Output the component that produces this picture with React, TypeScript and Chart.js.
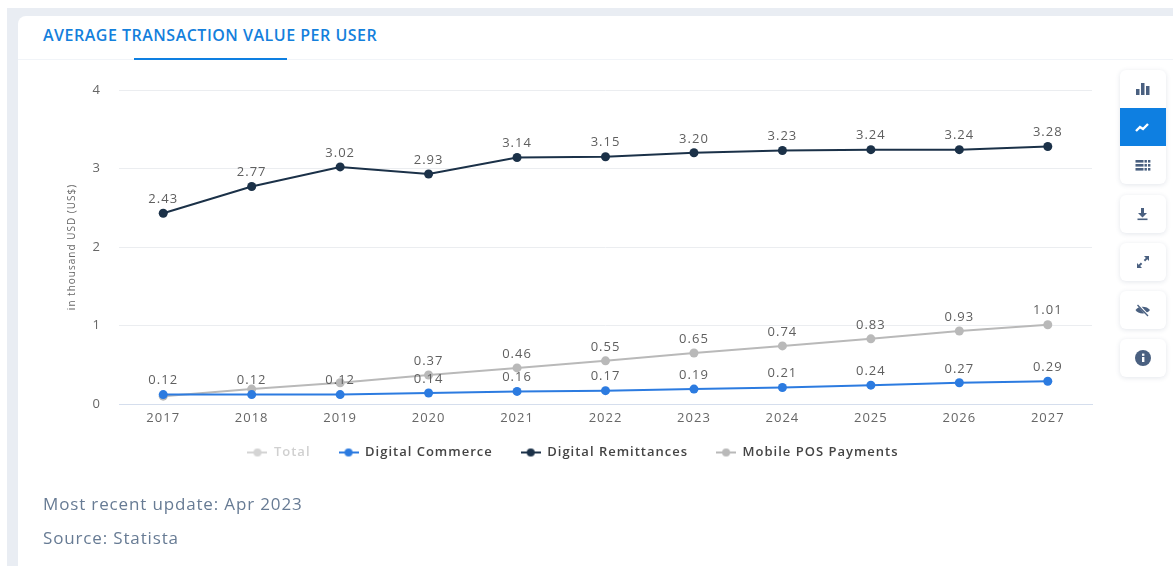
import React, { useEffect, useRef } from "react";
import { Chart, registerables } from "chart.js";

Chart.register(...registerables);

const TITLE = "AVERAGE TRANSACTION VALUE PER USER";
const UPDATE_TEXT = "Most recent update: Apr 2023";
const SOURCE_TEXT = "Source: Statista";
const Y_TITLE = "in thousand USD (US$)";
const years = ["2017", "2018", "2019", "2020", "2021", "2022", "2023", "2024", "2025", "2026", "2027"];
const digitalCommerce = [0.12, 0.12, 0.12, 0.14, 0.16, 0.17, 0.19, 0.21, 0.24, 0.27, 0.29];
const digitalRemittances = [2.43, 2.77, 3.02, 2.93, 3.14, 3.15, 3.2, 3.23, 3.24, 3.24, 3.28];
const mobilePos = [0.1, 0.19, 0.27, 0.37, 0.46, 0.55, 0.65, 0.74, 0.83, 0.93, 1.01];
const mobilePosFirstLabel = 3;
const legendNames = ["Total", "Digital Commerce", "Digital Remittances", "Mobile POS Payments"];
const legendColors = ["#d4d4d4", "#2c7be0", "#1b3148", "#b9b9b9"];

const FONT = '"Open Sans", sans-serif';
const SPACING = "1px";

function legendGlyph(color: string) {
  const c = document.createElement("canvas");
  c.width = 20;
  c.height = 10;
  const g = c.getContext("2d")!;
  g.strokeStyle = color;
  g.lineWidth = 2;
  g.beginPath();
  g.moveTo(0, 5);
  g.lineTo(20, 5);
  g.stroke();
  g.fillStyle = color;
  g.beginPath();
  g.arc(10, 5, 4, 0, Math.PI * 2);
  g.fill();
  return c;
}

const spacingPlugin = {
  id: "spacing",
  beforeLayout(chart: any) {
    chart.ctx.letterSpacing = SPACING;
  },
  afterLayout(chart: any) {
    // room below the axis line for the year labels, which overlap the legend's own padding
    chart.scales.x.bottom += 24;
  },
  beforeDraw(chart: any) {
    chart.ctx.letterSpacing = SPACING;
  },
};

const valueLabels = {
  id: "valueLabels",
  afterDatasetsDraw(chart: any) {
    const { ctx } = chart;
    ctx.save();
    ctx.font = `13px ${FONT}`;
    ctx.fillStyle = "#5f5f5f";
    ctx.textAlign = "center";
    ctx.textBaseline = "middle";
    chart.data.datasets.forEach((ds: any, i: number) => {
      const meta = chart.getDatasetMeta(i);
      meta.data.forEach((pt: any, j: number) => {
        if (ds.label === "Mobile POS Payments" && j < mobilePosFirstLabel) return;
        ctx.fillText(ds.data[j].toFixed(2), pt.x, pt.y - 14);
      });
    });
    ctx.restore();
  },
};

function ChartCanvas() {
  const ref = useRef<HTMLCanvasElement>(null);
  useEffect(() => {
    const line = (label: string, data: number[], color: string) => ({
      label,
      data,
      borderColor: color,
      backgroundColor: color,
      borderWidth: 2,
      pointRadius: 4.5,
      pointHoverRadius: 4.5,
      pointBorderWidth: 0,
      tension: 0,
    });
    const chart = new Chart(ref.current!, {
      type: "line",
      data: {
        labels: years,
        datasets: [
          line("Digital Commerce", digitalCommerce, legendColors[1]),
          line("Digital Remittances", digitalRemittances, legendColors[2]),
          line("Mobile POS Payments", mobilePos, legendColors[3]),
        ],
      },
      options: {
        animation: false,
        responsive: false,
        layout: { padding: { left: 54, right: 81, top: 90, bottom: 97 } },
        plugins: {
          tooltip: { enabled: false },
          legend: {
            position: "bottom",
            align: "center",
            onClick: () => {},
            labels: {
              usePointStyle: true,
              pointStyleWidth: 20,
              padding: 28,
              font: { family: FONT, size: 13, weight: "600" },
              generateLabels: () =>
                legendNames.map((text, i) => ({
                  text,
                  fontColor: i === 0 ? "#d0d0d0" : "#444444",
                  fillStyle: legendColors[i],
                  strokeStyle: legendColors[i],
                  pointStyle: legendGlyph(legendColors[i]),
                  lineWidth: 0,
                  hidden: false,
                })),
            },
          },
        },
        scales: {
          x: {
            offset: true,
            grid: { display: false, drawTicks: false },
            border: { display: true, color: "#d5deed", width: 1 },
            afterFit: (s: any) => { s.height = 14; },
            ticks: { color: "#666666", font: { family: FONT, size: 13 }, padding: 6, maxRotation: 0, autoSkip: false },
          },
          y: {
            min: 0,
            max: 4,
            afterFit: (s: any) => { s.width = 65; },
            grid: { color: "#ebedf0", drawTicks: false },
            border: { display: false },
            ticks: { stepSize: 1, color: "#666666", font: { family: FONT, size: 13 }, padding: 18 },
            title: {
              display: true,
              text: Y_TITLE,
              color: "#666666",
              font: { family: FONT, size: 10 },
              padding: { top: 12, bottom: 0 },
            },
          },
        },
      },
      plugins: [spacingPlugin, valueLabels],
    } as any);
    return () => chart.destroy();
  }, []);
  return <canvas ref={ref} width={1173} height={566} style={{ position: "absolute", left: 0, top: 0 }} />;
}

const ICON = "#4a6080";
const icons: React.ReactNode[] = [
  <g fill={ICON}><rect x="1" y="8" width="3.5" height="6" /><rect x="6" y="2" width="3.5" height="12" /><rect x="11" y="5" width="3.5" height="9" /></g>,
  <path d="M1 12 L5 8 L8 10 L13 5" fill="none" stroke="#fff" strokeWidth="2.4" />,
  <g fill={ICON}>{[3, 7, 11].map((y) => <g key={y}><rect x="0.5" y={y} width="8" height="2.6" /><rect x="9.5" y={y} width="2.4" height="2.6" /><rect x="13" y={y} width="2.4" height="2.6" /></g>)}</g>,
  <g fill={ICON}><path d="M6 2h3v5h3l-4.5 4.5L3 7h3z" /><rect x="2.5" y="12.5" width="10" height="1.6" /></g>,
  <g fill={ICON}><path d="M9 2h5v5l-1.7-1.7-2.2 2.2-1.4-1.4 2.2-2.2z" /><path d="M7 14H2V9l1.7 1.7 2.2-2.2 1.4 1.4-2.2 2.2z" /></g>,
  <g><path d="M0.5 8 C3 3.5 12 3.5 15 8 C12 12.5 3 12.5 0.5 8z" fill={ICON} /><path d="M3 2.5 L13 13.5" stroke="#fff" strokeWidth="2.6" /><path d="M2.5 3 L13 14" stroke={ICON} strokeWidth="1.3" /></g>,
  <g><circle cx="8" cy="8" r="8" fill={ICON} /><rect x="7" y="7" width="2.4" height="5" fill="#fff" /><rect x="7" y="3.6" width="2.4" height="2.2" fill="#fff" /></g>,
];

function Btn({ top, h, i, active }: { top: number; h: number; i: number; active?: boolean }) {
  return (
    <div style={{ position: "absolute", left: 1120, top, width: 46, height: h, background: active ? "#0e7fe1" : "transparent", display: "flex", alignItems: "center", justifyContent: "center" }}>
      <svg width="16" height="16" viewBox="0 0 16 16">{icons[i]}</svg>
    </div>
  );
}

const shadow = "0 1px 5px rgba(60,80,110,0.14)";
const pad = (top: number, h: number) => (
  <div key={top} style={{ position: "absolute", left: 1120, top, width: 46, height: h, borderRadius: 6, background: "#fff", boxShadow: shadow }} />
);

export default function App() {
  const foot: React.CSSProperties = { position: "absolute", left: 43, color: "#677b94", fontFamily: FONT, fontSize: 17, letterSpacing: "0.85px", lineHeight: "24px", whiteSpace: "nowrap" };
  return (
    <div style={{ position: "fixed", left: 0, top: 0, width: 1173, height: 566, background: "#fff", overflow: "hidden" }}>
      <div style={{ position: "absolute", left: 7, top: 8, width: 1166, height: 558, background: "#e9edf3" }} />
      <div style={{ position: "absolute", left: 18, top: 16, width: 1155, height: 550, background: "#fff", borderTopLeftRadius: 8 }} />
      <div style={{ position: "absolute", left: 18, top: 59, width: 1155, height: 1, background: "#f1f4f8" }} />
      <div style={{ position: "absolute", left: 134, top: 58, width: 153, height: 2, background: "#0e7fe1" }} />
      <div style={{ position: "absolute", left: 43, top: 25, color: "#1480dc", fontFamily: FONT, fontSize: 16, fontWeight: 600, letterSpacing: "0.5px", lineHeight: "21px", whiteSpace: "nowrap" }}>{TITLE}</div>
      <ChartCanvas />
      {pad(70, 114)}
      {pad(195, 38)}
      {pad(243, 38)}
      {pad(291, 38)}
      {pad(339, 38)}
      <Btn top={70} h={38} i={0} />
      <Btn top={108} h={38} i={1} active />
      <Btn top={146} h={38} i={2} />
      <Btn top={195} h={38} i={3} />
      <Btn top={243} h={38} i={4} />
      <Btn top={291} h={38} i={5} />
      <Btn top={339} h={38} i={6} />
      <div style={{ ...foot, top: 492 }}>{UPDATE_TEXT}</div>
      <div style={{ ...foot, top: 526 }}>{SOURCE_TEXT}</div>
    </div>
  );
}
